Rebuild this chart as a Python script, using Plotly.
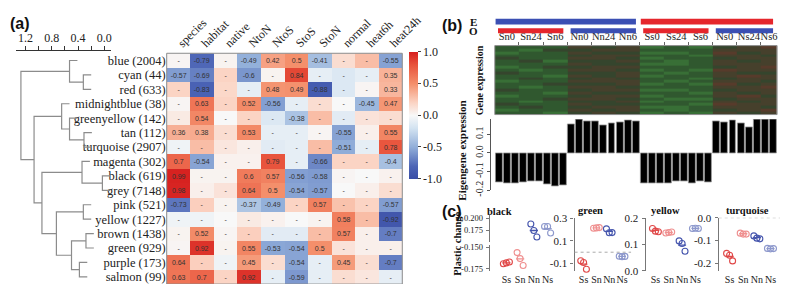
import plotly.graph_objects as go

W, H = 794, 284
def fx(p): return p / W
def fy(p): return 1 - p / H

SERIF = "Liberation Serif"
SANS = "Liberation Sans"

# ---------------- panel (a) data ----------------
modules = ["blue (2004)", "cyan (44)", "red (633)", "midnightblue (38)", "greenyellow (142)",
           "tan (112)", "turquoise (2907)", "magenta (302)", "black (619)", "grey (7148)",
           "pink (521)", "yellow (1227)", "brown (1438)", "green (929)", "purple (173)", "salmon (99)"]
leaf_names = ["blue", "cyan", "red", "midnightblue", "greenyellow", "tan", "turquoise", "magenta",
              "black", "grey", "pink", "yellow", "brown", "green", "purple", "salmon"]
traits = ["species", "habitat", "native", "NtoN", "NtoS", "StoS", "StoN", "normal", "heat6h", "heat24h"]

cor = [
    [0.02, -0.79, 0.03, -0.49, 0.42, 0.50, -0.41, 0.15, 0.30, -0.55],
    [-0.57, -0.69, 0.20, -0.60, 0.03, 0.84, -0.10, -0.15, -0.10, 0.35],
    [0.20, -0.83, 0.18, -0.10, 0.48, 0.49, -0.88, -0.15, 0.02, 0.33],
    [0.02, 0.63, 0.20, 0.52, -0.56, -0.10, 0.15, 0.00, -0.45, 0.47],
    [0.08, 0.54, 0.00, 0.20, -0.15, -0.38, 0.30, -0.12, 0.12, 0.15],
    [0.36, 0.38, 0.15, 0.53, -0.10, -0.10, 0.02, -0.55, 0.05, 0.55],
    [-0.05, 0.30, 0.10, 0.05, -0.12, -0.10, 0.30, -0.51, -0.10, 0.78],
    [0.70, -0.54, 0.04, 0.04, 0.79, -0.10, -0.66, 0.20, 0.20, -0.40],
    [0.99, 0.03, 0.03, 0.60, 0.57, -0.56, -0.58, 0.02, 0.00, 0.04],
    [0.98, 0.05, 0.12, 0.64, 0.50, -0.54, -0.57, 0.00, 0.05, 0.15],
    [-0.73, 0.22, 0.03, -0.37, -0.49, 0.20, 0.57, 0.28, 0.20, -0.57],
    [-0.05, -0.05, 0.00, 0.08, 0.04, 0.00, 0.03, 0.58, 0.30, -0.92],
    [0.03, 0.52, 0.02, 0.22, -0.12, -0.12, 0.30, 0.57, 0.05, -0.70],
    [0.02, 0.92, 0.03, 0.55, -0.53, -0.54, 0.50, 0.12, 0.05, 0.05],
    [0.64, 0.22, -0.05, 0.45, 0.15, -0.54, -0.10, 0.45, 0.15, -0.70],
    [0.63, 0.70, 0.20, 0.92, -0.10, -0.59, -0.10, 0.15, 0.10, -0.10],
]
cor_text = [
    ["-", "-0.79", "-", "-0.49", "0.42", "0.5", "-0.41", "-", "-", "-0.55"],
    ["-0.57", "-0.69", "-", "-0.6", "-", "0.84", "-", "-", "-", "0.35"],
    ["-", "-0.83", "-", "-", "0.48", "0.49", "-0.88", "-", "-", "0.33"],
    ["-", "0.63", "-", "0.52", "-0.56", "-", "-", "-", "-0.45", "0.47"],
    ["-", "0.54", "-", "-", "-", "-0.38", "-", "-", "-", "-"],
    ["0.36", "0.38", "-", "0.53", "-", "-", "-", "-0.55", "-", "0.55"],
    ["-", "-", "-", "-", "-", "-", "-", "-0.51", "-", "0.78"],
    ["0.7", "-0.54", "-", "-", "0.79", "-", "-0.66", "-", "-", "-0.4"],
    ["0.99", "-", "-", "0.6", "0.57", "-0.56", "-0.58", "-", "-", "-"],
    ["0.98", "-", "-", "0.64", "0.5", "-0.54", "-0.57", "-", "-", "-"],
    ["-0.73", "-", "-", "-0.37", "-0.49", "-", "0.57", "-", "-", "-0.57"],
    ["-", "-", "-", "-", "-", "-", "-", "0.58", "-", "-0.92"],
    ["-", "0.52", "-", "-", "-", "-", "-", "0.57", "-", "-0.7"],
    ["-", "0.92", "-", "0.55", "-0.53", "-0.54", "0.5", "-", "-", "-"],
    ["0.64", "-", "-", "0.45", "-", "-0.54", "-", "0.45", "-", "-0.7"],
    ["0.63", "0.7", "-", "0.92", "-", "-0.59", "-", "-", "-", "-"],
]
cor_colorscale = [[0.0, "#3a4ea6"], [0.1, "#4d65b6"], [0.25, "#91aed9"], [0.4, "#d3e3f1"],
                  [0.5, "#f8f8f8"], [0.6, "#fbd4c4"], [0.75, "#f48f6b"], [0.9, "#e8523b"],
                  [1.0, "#d61f1f"]]

# dendrogram merges: (child, child, height); ints refer to earlier merges
dendro_merges = [
    ("cyan", "red", 0.32),          # 0
    ("blue", 0, 0.53),              # 1
    ("tan", "turquoise", 0.31),     # 2
    ("greenyellow", 2, 0.53),       # 3
    ("midnightblue", 3, 0.65),      # 4
    ("black", "grey", 0.03),        # 5
    ("magenta", 5, 0.34),           # 6
    ("pink", "yellow", 0.32),       # 7
    ("brown", "green", 0.28),       # 8
    ("purple", "salmon", 0.38),     # 9
    (8, 9, 0.50),                   # 10
    (7, 10, 0.73),                  # 11
    (6, 11, 0.95),                  # 12
    (4, 12, 1.07),                  # 13
    (1, 13, 1.27),                  # 14
]
dendro_hang = 0.12
dendro_tickvals = [1.2, 1.0, 0.8, 0.6, 0.4, 0.2, 0.0]
dendro_ticktext = ["1.2", "", "0.8", "", "0.4", "", "0.0"]

# ---------------- panel (b) data ----------------
group_labels = ["Sn0", "Sn24", "Sn6", "Nn0", "Nn24", "Nn6", "Ss0", "Ss24", "Ss6", "Ns0", "Ns24", "Ns6"]
group_sizes = [3, 3, 3, 3, 3, 3, 3, 3, 3, 3, 3, 2]
treat_groups = ["Sn", "Nn", "Ss", "Ns"]
treat_sizes = [9, 9, 9, 8]
E_colour = ["#3b4fb3", "#3b4fb3", "#e5262c", "#e5262c"]
O_colour = ["#e5262c", "#3b4fb3", "#e5262c", "#3b4fb3"]

expr = [
    [-1, -1, -2, 0, 1, 0, -2, -1, -2, 1, 0, 1],
    [-2, -1, -1, 1, 0, 1, -1, -2, -1, 0, 1, 2],
    [-1, 0, -1, 0, 1, 1, -2, -2, -1, 1, 1, 0],
    [0, -1, -1, 1, 0, 0, -1, -1, -2, 2, 1, 1],
    [-1, -2, -1, 0, 0, 1, -2, -1, -1, 1, 0, 1],
    [-1, -1, 0, 1, 1, 0, -1, -2, -2, 0, 1, 1],
    [-2, -1, -1, 0, 1, 1, -2, -1, -1, 1, 2, 0],
    [-1, -1, -2, 1, 0, 0, -1, -1, -2, 1, 0, 1],
    [0, -1, -1, 0, 1, 1, -2, -2, -1, 0, 1, 1],
    [-1, -2, -1, 1, 1, 0, -1, -1, -1, 1, 1, 2],
    [-1, -1, 0, 0, 0, 1, -2, -1, -2, 2, 0, 1],
    [-2, -1, -1, 1, 1, 1, -1, -2, -1, 1, 1, 0],
    [-1, 0, -1, 0, 1, 0, -1, -1, -2, 0, 1, 1],
    [-1, -1, -2, 1, 0, 1, -2, -1, -1, 1, 2, 1],
    [0, -1, -1, 0, 0, 1, -1, -2, -1, 1, 0, 0],
    [-1, -2, -1, 1, 1, 0, -2, -1, -2, 2, 1, 1],
    [-2, -1, 0, 0, 1, 1, -1, -1, -1, 0, 1, 2],
    [-1, -1, -1, 1, 0, 0, -2, -2, -1, 1, 1, 1],
    [-1, 0, -2, 0, 0, 1, -1, -2, -1, 1, 0, 1],
    [0, -1, -1, 1, 1, 0, -2, -1, -1, 0, 1, 1],
    [-1, -1, -1, 0, 1, 1, -1, -1, -2, 1, 1, 0],
    [-2, -1, -1, 1, 0, 0, -2, -2, -1, 2, 0, 1],
    [-1, -2, 0, 0, 1, 1, -1, -1, -1, 1, 1, 1],
    [-1, -1, -1, 1, 0, 1, -2, -1, -2, 0, 1, 2],
]
expr_colorscale = [[0.0, "#3c7a3a"], [0.3, "#30582f"], [0.5, "#35452d"], [0.75, "#4a3f2c"], [1.0, "#60392a"]]

eigengene = [-0.159, -0.164, -0.164, -0.159, -0.154, -0.154, -0.169, -0.179, -0.174,
             0.154, 0.179, 0.169, 0.169, 0.149, 0.159, 0.164, 0.174, 0.169,
             -0.164, -0.164, -0.164, -0.164, -0.154, -0.154, -0.164, -0.154, -0.159,
             0.169, 0.164, 0.174, 0.159, 0.138, 0.179, 0.179, 0.190]

# ---------------- panel (c) data ----------------
cats = ["Ss", "Sn", "Nn", "Ns"]
cat_colours = ["#e04848", "#ef9090", "#4555ad", "#8d98cc"]
plastic_black = [[-0.169, -0.168, -0.167], [-0.156, -0.163, -0.171], [0.188, 0.175, 0.162], [0.183, 0.183, 0.170]]
plastic_green = [[-0.075, -0.09, -0.15], [0.21, 0.213, 0.216], [0.205, 0.17, 0.172], [-0.036, -0.039, -0.037]]
plastic_yellow = [[0.16, 0.15, 0.148], [0.143, 0.145, 0.147], [0.113, 0.103, 0.074], [0.16, 0.161, 0.16]]
plastic_turq = [[-0.157, -0.165, -0.19], [-0.068, -0.072, -0.072], [-0.08, -0.09, -0.093], [-0.135, -0.137, -0.136]]
jitter = [-0.22, 0.0, 0.22]

fig = go.Figure()

# ---- dendrogram ----
pos = {n: i for i, n in enumerate(leaf_names)}
hgt = {}
dx, dy = [], []
for k, (a, b, h) in enumerate(dendro_merges):
    pa, pb = pos[a], pos[b]
    ha = hgt.get(a, h - dendro_hang)
    hb = hgt.get(b, h - dendro_hang)
    dx += [ha, h, h, hb, None]
    dy += [pa, pa, pb, pb, None]
    pos[k] = (pa + pb) / 2
    hgt[k] = h
fig.add_trace(go.Scatter(x=dx, y=dy, mode="lines", line=dict(color="#8c8c8c", width=1.2),
                         xaxis="x2", yaxis="y2", hoverinfo="skip", showlegend=False))

# ---- module-trait heatmap ----
fig.add_trace(go.Heatmap(
    z=cor, x=list(range(len(traits))), y=list(range(len(modules))), text=cor_text,
    texttemplate="%{text}", textfont=dict(size=7, color="#333333", family=SANS),
    colorscale=cor_colorscale, zmin=-1, zmax=1, xaxis="x", yaxis="y",
    colorbar=dict(x=fx(412), xanchor="left", y=fy(105.5), yanchor="middle", len=127, lenmode="pixels",
                  thickness=9, thicknessmode="pixels", tickvals=[-1, -0.5, 0, 0.5, 1],
                  ticktext=["-1.0", "-0.5", "0.0", "0.5", "1.0"], ticks="outside", ticklen=3,
                  tickfont=dict(family=SERIF, size=12, color="#222"), outlinewidth=0, xpad=0, ypad=0)))

# ---- gene expression heatmap ----
edges = [0]
for s in group_sizes:
    edges.append(edges[-1] + s)
centers = [(edges[i] + edges[i + 1]) / 2 for i in range(len(group_sizes))]
fig.add_trace(go.Heatmap(z=expr, x=edges, y=list(range(len(expr))), colorscale=expr_colorscale,
                         zmin=-2.5, zmax=2.5, showscale=False, xaxis="x3", yaxis="y3", hoverinfo="skip"))

# ---- eigengene bars ----
fig.add_trace(go.Bar(x=[i + 0.5 for i in range(len(eigengene))], y=eigengene, width=0.86,
                     marker=dict(color="black", line=dict(color="#9a9a9a", width=0.8)),
                     xaxis="x4", yaxis="y4", showlegend=False))

# E / O bars
shapes = []
tstart = 0
for g, sz in enumerate(treat_sizes):
    shapes.append(dict(type="rect", xref="x3", yref="paper", x0=tstart + 0.4, x1=tstart + sz - 0.5,
                       y0=fy(20), y1=fy(15), fillcolor=O_colour[g], line=dict(width=0)))
    tstart += sz
tstart = 0
for g in (0, 2):
    sz = treat_sizes[g] + treat_sizes[g + 1]
    shapes.append(dict(type="rect", xref="x3", yref="paper", x0=tstart + 0.1, x1=tstart + sz - 0.5,
                       y0=fy(11), y1=fy(5), fillcolor=E_colour[g], line=dict(width=0)))
    tstart += sz

shapes.append(dict(type="rect", xref="x domain", yref="y domain", x0=0, x1=1, y0=0, y1=1,
                   line=dict(color="#8a8a8a", width=1)))
shapes.append(dict(type="rect", xref="x3 domain", yref="y3 domain", x0=0, x1=1, y0=0, y1=1,
                   line=dict(color="#8a8a8a", width=1)))

# ---- panel (c) ----
def add_points(vals, xa, ya_list):
    for ci, v in enumerate(vals):
        ya = ya_list[ci]
        fig.add_trace(go.Scatter(x=[ci + j for j in jitter], y=v, mode="markers",
                                 marker=dict(symbol="circle-open", size=6, color=cat_colours[ci],
                                             line=dict(width=1.1)),
                                 xaxis=xa, yaxis=ya, showlegend=False, cliponaxis=False))
        m = sum(v) / len(v)
        fig.add_trace(go.Scatter(x=[ci - 0.3, ci + 0.3], y=[m, m], mode="lines",
                                 line=dict(color=cat_colours[ci], width=1.3),
                                 xaxis=xa, yaxis=ya, showlegend=False))

add_points(plastic_black, "x5", ["y5", "y5", "y6", "y6"])
add_points(plastic_green, "x7", ["y7"] * 4)
add_points(plastic_yellow, "x8", ["y8"] * 4)
add_points(plastic_turq, "x9", ["y9"] * 4)

for ax in ("x7", "x9"):
    yr = "y" + ax[1:]
    shapes.append(dict(type="line", xref=ax + " domain", yref=yr, x0=0, x1=1, y0=0, y1=0,
                       line=dict(color="#aaaaaa", width=1, dash="dot")))

def cat_xaxis(x0, x1, r, anchor):
    return dict(domain=[fx(x0), fx(x1)], range=r, anchor=anchor, tickvals=[0, 1, 2, 3], ticktext=cats,
                showline=False, showgrid=False, zeroline=False, ticks="", tickangle=0,
                tickfont=dict(family=SERIF, size=10, color="#222"), ticklabelstandoff=1)

def val_yaxis(y0, y1, r, tv, tt, anchor, size=11):
    return dict(domain=[fy(y1), fy(y0)], range=r, anchor=anchor, tickvals=tv, ticktext=tt,
                showline=True, linecolor="#777", linewidth=1.3, ticks="outside", ticklen=3,
                tickcolor="#777", showgrid=False, zeroline=False, ticklabelstandoff=1,
                tickfont=dict(family=SERIF, size=size, color="#222"))

layout = dict(
    width=W, height=H, margin=dict(l=0, r=0, t=0, b=0), paper_bgcolor="white", plot_bgcolor="white",
    showlegend=False, bargap=0,
    xaxis=dict(domain=[fx(163), fx(405)], range=[-0.5, 9.5], anchor="y", side="top",
               tickvals=list(range(len(traits))), ticktext=traits, tickangle=-45, ticks="",
               tickfont=dict(family=SERIF, size=12, color="#222"), showgrid=False, zeroline=False),
    yaxis=dict(domain=[fy(282), fy(41)], range=[15.5, -0.5], anchor="x",
               tickvals=list(range(len(modules))), ticktext=modules, ticks="",
               tickfont=dict(family=SERIF, size=12.5, color="#222"), showgrid=False, zeroline=False),
    xaxis2=dict(domain=[fx(8), fx(106)], range=[1.348, -0.104], anchor="y2", side="top",
                tickvals=dendro_tickvals, ticktext=dendro_ticktext, ticks="outside", ticklen=4,
                showline=True, linecolor="#333", tickcolor="#333", linewidth=1,
                tickfont=dict(family=SERIF, size=12, color="#222"), showgrid=False, zeroline=False),
    yaxis2=dict(domain=[fy(282), fy(39)], range=[15.5, -0.633], anchor="x2", visible=False),
    xaxis3=dict(domain=[fx(500), fx(790)], range=[0, 35], anchor="y3", side="top",
                tickvals=centers, ticktext=group_labels, ticks="", tickangle=0, ticklabelstandoff=3,
                minor=dict(tickvals=edges[1:-1], ticks="outside", ticklen=3, tickcolor="#666"),
                tickfont=dict(family=SERIF, size=10.5, color="#222"), showgrid=False, zeroline=False),
    yaxis3=dict(domain=[fy(105), fy(33)], range=[-0.5, len(expr) - 0.5], anchor="x3", visible=False),
    xaxis4=dict(domain=[fx(500), fx(790)], range=[0, 35], anchor="y4", visible=False),
    yaxis4=dict(domain=[fy(184), fy(110)], range=[-0.2, 0.18], anchor="free", position=fx(495),
                tickvals=[0.1, 0.0, -0.1, -0.2], ticktext=["0.1", "0.0", "-0.1", "-0.2"], tickangle=-90,
                showline=True, linecolor="#555", ticks="outside", ticklen=3, tickcolor="#555",
                tickfont=dict(family=SERIF, size=10, color="#222"), showgrid=False, zeroline=False),
    xaxis5=cat_xaxis(495, 562, [-1.2, 3.55], "y5"),
    yaxis5=val_yaxis(241, 268, [-0.177, -0.147], [-0.150, -0.175], ["-0.150", "-0.175"], "x5", 8.5),
    yaxis6=val_yaxis(210, 238, [0.152, 0.2058], [0.200, 0.175], ["0.200", "0.175"], "x5", 8.5),
    xaxis7=cat_xaxis(582, 640, [-0.7, 3.7], "y7"),
    yaxis7=val_yaxis(213, 268, [-0.162, 0.3], [0.3, 0.1, -0.1], ["0.3", "0.1", "-0.1"], "x7"),
    xaxis8=cat_xaxis(655, 715, [-0.73, 3.65], "y8"),
    yaxis8=val_yaxis(213, 268, [0, 0.2], [0.2, 0.1, 0.0], ["0.2", "0.1", "0.0"], "x8"),
    xaxis9=cat_xaxis(730, 793, [-0.8, 3.7], "y9"),
    yaxis9=val_yaxis(212.7, 268, [-0.233, 0], [0.0, -0.1, -0.2], ["0.0", "-0.1", "-0.2"], "x9"),
    shapes=shapes,
)
fig.update_layout(**layout)

def ann(text, x, y, size=11, angle=0, family=SERIF, xanchor="center"):
    fig.add_annotation(text=text, x=fx(x), y=fy(y), xref="paper", yref="paper", showarrow=False,
                       textangle=angle, xanchor=xanchor, yanchor="middle",
                       font=dict(family=family, size=size, color="#111"))

ann("<b>(a)</b>", 0, 10, 16, family=SANS, xanchor="left")
ann("<b>(b)</b>", 444, 12, 16, family=SANS, xanchor="left")
ann("<b>(c)</b>", 444, 206, 16, family=SANS, xanchor="left")
ann("<b>E</b>", 478, 8, 11)
ann("<b>O</b>", 478, 18, 11)
ann("<b>Gene expression</b>", 484, 69, 10, -90)
ann("<b>Eigengene expression</b>", 466, 143, 11, -90)
ann("<b>Plastic change</b>", 462, 240, 10.5, -90)
ann("<b>black</b>", 490, 206, 10.5, xanchor="left")
ann("<b>green</b>", 583, 205, 10.5, xanchor="left")
ann("<b>yellow</b>", 658, 205, 10.5, xanchor="left")
ann("<b>turquoise</b>", 735, 205, 10.5, xanchor="left")

fig.write_html("out.html")
